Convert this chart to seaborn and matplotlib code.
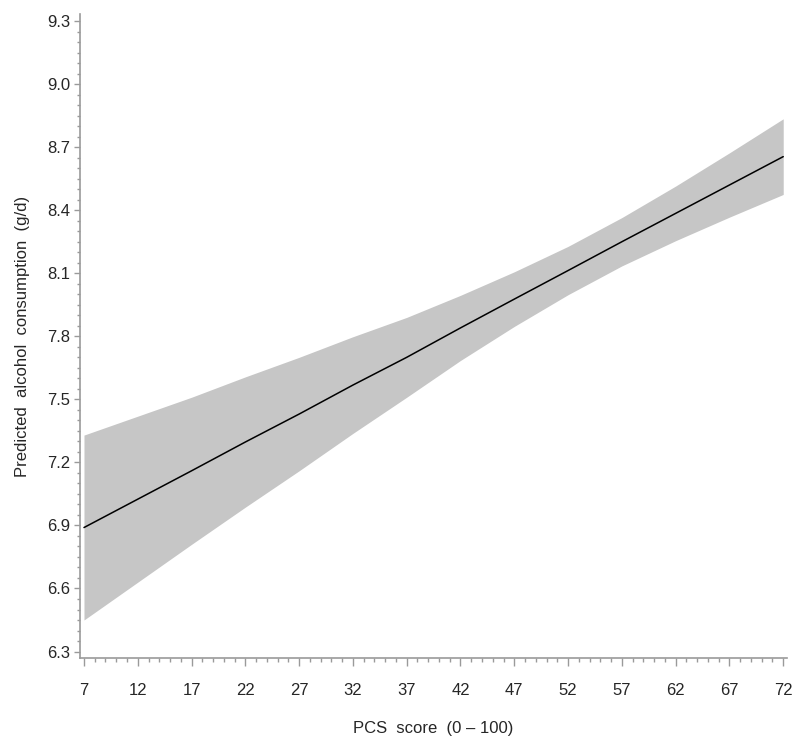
import pandas as pd
import matplotlib
matplotlib.use('Agg')
import matplotlib.pyplot as plt
from matplotlib.ticker import MultipleLocator
import seaborn as sns

# Dados
pcs_score = [7, 12, 17, 22, 27, 32, 37, 42, 47, 52, 57, 62, 67, 72]
predicted = [6.89, 7.025, 7.16, 7.297, 7.43, 7.568, 7.70, 7.84, 7.977,
             8.113, 8.25, 8.385, 8.52, 8.655]
lower_ci = [6.45, 6.63, 6.81, 6.987, 7.16, 7.338, 7.51, 7.685, 7.847,
            7.998, 8.135, 8.255, 8.367, 8.475]
upper_ci = [7.33, 7.42, 7.51, 7.607, 7.70, 7.798, 7.89, 7.995, 8.107,
            8.228, 8.365, 8.515, 8.673, 8.835]

x_ticks = [7, 12, 17, 22, 27, 32, 37, 42, 47, 52, 57, 62, 67, 72]
y_ticks = [6.3, 6.6, 6.9, 7.2, 7.5, 7.8, 8.1, 8.4, 8.7, 9.0, 9.3]

df = pd.DataFrame({'pcs': pcs_score, 'pred': predicted,
                   'lo': lower_ci, 'hi': upper_ci})

sns.set_theme(style='white')
plt.rcParams['font.family'] = ['Liberation Sans', 'DejaVu Sans']

fig = plt.figure(figsize=(8, 7.45), dpi=100)
ax = fig.add_axes([0.1, 0.117, 0.884, 0.864])

# Faixa de confiança
ax.fill_between(df['pcs'], df['lo'], df['hi'], color='#c6c6c6', linewidth=0)
sns.lineplot(data=df, x='pcs', y='pred', color='black', linewidth=1.1, ax=ax)

ax.set_xlim(6.63, 72.37)
ax.set_ylim(6.27, 9.333)
ax.set_xticks(x_ticks)
ax.set_yticks(y_ticks)
ax.set_yticklabels([f'{v:.1f}' for v in y_ticks])
ax.xaxis.set_minor_locator(MultipleLocator(1))
ax.yaxis.set_minor_locator(MultipleLocator(0.05))

for side in ['top', 'right']:
    ax.spines[side].set_visible(False)
for side in ['left', 'bottom']:
    ax.spines[side].set_color('#9a9a9a')
    ax.spines[side].set_linewidth(1.2)

ax.tick_params(axis='x', which='major', direction='out', length=6, width=1,
               color='#9a9a9a', labelsize=12, pad=12, bottom=True)
ax.tick_params(axis='x', which='minor', direction='out', length=3, width=1,
               color='#9a9a9a', bottom=True)
ax.tick_params(axis='y', which='major', direction='out', length=4, width=1,
               color='#9a9a9a', labelsize=12, pad=3, left=True)
ax.tick_params(axis='y', which='minor', direction='out', length=2.5, width=1,
               color='#9a9a9a', left=True)

ax.set_xlabel('PCS  score  (0 \u2013 100)', fontsize=12, labelpad=17)
ax.set_ylabel('Predicted  alcohol  consumption  (g/d)', fontsize=12, labelpad=12)
ax.grid(False)

plt.savefig('out.png', dpi=100, facecolor='white')
plt.close()
